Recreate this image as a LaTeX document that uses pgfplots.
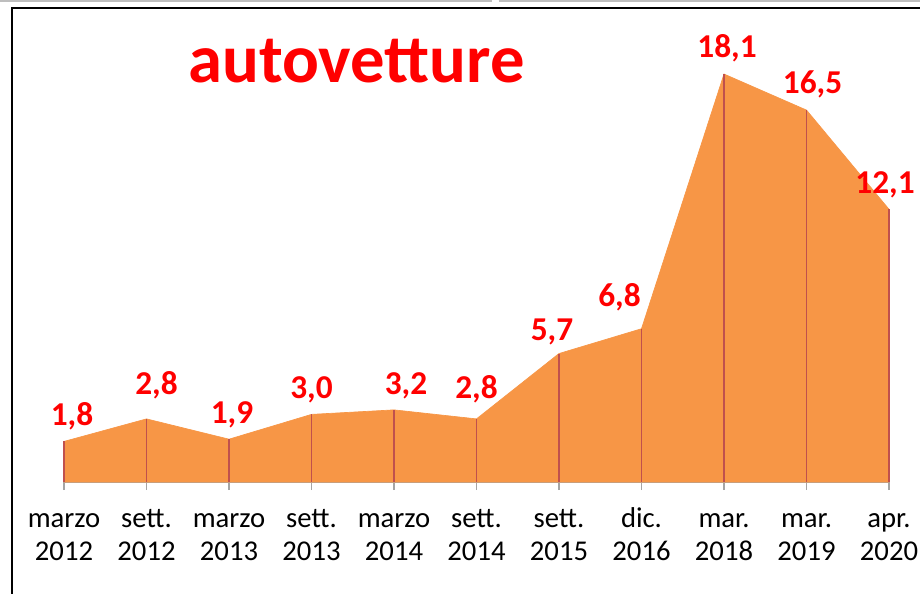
\documentclass[border=0pt]{standalone}
\usepackage{fontspec}
\setmainfont{Carlito}
\usepackage{pgfplots}
\usepackage{pgfplotstable}
\pgfplotsset{compat=1.18}

\definecolor{areaorange}{RGB}{247,150,70}
\definecolor{dropline}{RGB}{192,80,77}
\definecolor{axisgray}{RGB}{165,165,165}
\definecolor{framegray}{RGB}{190,190,190}

% x = position, y = value, dx/dy = label offset from the point (px)
\pgfplotstableread{
x  y     dx   dy  lab
0  1.8    8   16  1,8
1  2.8   10   24  2,8
2  1.9    3   16  1,9
3  3.0    0   16  3,0
4  3.2   12   15  3,2
5  2.8    0   20  2,8
6  5.7   -7   13  5,7
7  6.8  -22   22  6,8
8  18.1   3   17  18,1
9  16.5   6   17  16,5
10 12.1  -4   16  12,1
}\autovetture

\begin{document}
\begin{tikzpicture}
\begin{axis}[
    at={(0,0)}, anchor=south west,
    scale only axis,
    width=618.75pt, height=338.1pt,
    xmin=0, xmax=10, ymin=0, ymax=20,
    clip=false,
    axis y line=none,
    axis x line=bottom,
    x axis line style={-, draw=axisgray, line width=1.5pt},
    xtick={0,...,10},
    xticklabels={
        \strut marzo\\2012, \strut sett.\\2012, \strut marzo\\2013,
        \strut sett.\\2013, \strut marzo\\2014, \strut sett.\\2014,
        \strut sett.\\2015, \strut dic.\\2016, \strut mar.\\2018,
        \strut mar.\\2019, \strut apr.\\2020},
    xtick align=outside,
    major tick length=6pt,
    tick style={draw=axisgray, line width=1.2pt},
    xticklabel style={align=center, anchor=north, inner sep=0pt,
        font=\fontsize{21.5}{24.75}\selectfont, text=black, yshift=-10.5pt},
]
% filled area
\addplot[fill=areaorange, draw=areaorange, line width=0.5pt]
    table[x=x, y=y] {\autovetture} \closedcycle;
% drop lines
\addplot[ycomb, draw=dropline, line width=1.1pt, mark=none]
    table[x=x, y=y] {\autovetture};
% value labels
\addplot[draw=none, mark=none,
    point meta=explicit symbolic,
    visualization depends on={\thisrow{dx}\as\dx},
    visualization depends on={\thisrow{dy}\as\dy},
    nodes near coords,
    every node near coord/.append style={anchor=base, inner sep=0pt,
        xshift={0.75pt*\dx}, yshift={0.75pt*\dy},
        text=red, font=\fontsize{25}{30}\selectfont\bfseries},
    ] table[x=x, y=y, meta=lab] {\autovetture};
\end{axis}
% title
\node[anchor=base, text=red, font=\fontsize{51.5}{60}\selectfont\bfseries,
    inner sep=0pt] at (219.4pt,299.25pt) {autovetture};
% frame pieces of the original picture
\draw[black, line width=1.5pt] (-39pt,-84pt) -- (-39pt,355.5pt) -- (643pt,355.5pt);
\draw[framegray, line width=1.5pt] (-49pt,360.75pt) -- (321pt,360.75pt);
\draw[framegray, line width=1.5pt] (326pt,360.75pt) -- (643pt,360.75pt);
\pgfresetboundingbox
\path (-48pt,-83.25pt) rectangle (642pt,361.5pt);
\end{tikzpicture}
\end{document}
